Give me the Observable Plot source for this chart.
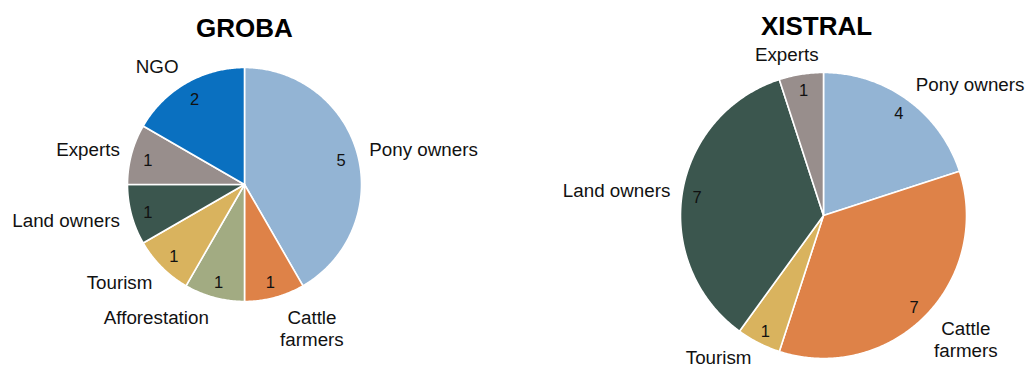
<!DOCTYPE html>
<html><head><meta charset="utf-8">
<script src="https://cdn.jsdelivr.net/npm/d3@7"></script>
<script src="https://cdn.jsdelivr.net/npm/@observablehq/plot@0.6"></script>
<style>body{margin:0;background:#fff;} #chart svg{display:block;}</style>
</head><body><div id="chart"></div>
<script>
// ---- data ----
const grobaCategories = ["Pony owners", "Cattle farmers", "Afforestation", "Tourism", "Land owners", "Experts", "NGO"];
const grobaValues = [5, 1, 1, 1, 1, 1, 2];
const xistralCategories = ["Pony owners", "Cattle farmers", "Tourism", "Land owners", "Experts"];
const xistralValues = [4, 7, 1, 7, 1];
const pieTitles = ["GROBA", "XISTRAL"];
const allCategories = ["Pony owners", "Cattle farmers", "Afforestation", "Tourism", "Land owners", "Experts", "NGO"];
const categoryDisplay = {"Cattle farmers": "Cattle\nfarmers"};

// ---- style / layout ----
const W = 1029, H = 370;
const palette = ["#93b4d4", "#de8248", "#a2ab82", "#d9b35e", "#3b564e", "#988e8c", "#0a70c0"];
const FONT = "Liberation Sans, Arial, Helvetica, sans-serif";
const LABEL_SIZE = 18.8, VALUE_SIZE = 16.5, LINE_H = 1.2;
const layout = [
  {cx: 244, cy: 184, r: 117, titleX: 244, titleY: 28, valueInset: 17},
  {cx: 823, cy: 215, r: 143, titleX: 816, titleY: 26, valueInset: 15}
];

const ctx = document.createElement("canvas").getContext("2d");
ctx.font = `${LABEL_SIZE}px ${FONT}`;
const textW = s => d3.max(s.split("\n"), l => ctx.measureText(l).width);

const pies = [[grobaCategories, grobaValues], [xistralCategories, xistralValues]];
const wedgePts = [], labels = [], values = [], titles = [];
pies.forEach(([cats, vals], p) => {
  const L = layout[p];
  const arcs = d3.pie().sort(null).value(d => d.v)(cats.map((c, i) => ({c, v: vals[i]})));
  arcs.forEach((a, i) => {
    const id = p + "-" + i;
    wedgePts.push({id, cat: a.data.c, x: L.cx, y: L.cy});
    const n = Math.max(2, Math.ceil((a.endAngle - a.startAngle) / 0.01));
    for (let k = 0; k <= n; k++) {
      const t = a.startAngle + (a.endAngle - a.startAngle) * k / n;
      wedgePts.push({id, cat: a.data.c, x: L.cx + L.r * Math.sin(t), y: L.cy - L.r * Math.cos(t)});
    }
    const m = (a.startAngle + a.endAngle) / 2, s = Math.sin(m), c = Math.cos(m);
    // outside label, placed beside the rim like a spreadsheet "outside end" label
    const txt = categoryDisplay[a.data.c] || a.data.c;
    const lines = txt.split("\n").length;
    const w = textW(txt), h = lines * LABEL_SIZE * LINE_H;
    const ro = L.r + 9;
    const px = L.cx + ro * s, py = L.cy - ro * c;
    let cxl;
    if (s > 0.2) cxl = px + 3 + w / 2;
    else if (s < -0.2) cxl = px - 3 - w / 2;
    else cxl = px + s * w / 2 - (s < 0 ? 8 : -8);
    const cyl = Math.min(py - c * h / 2, H - h / 2 - 2);
    labels.push({text: txt, x: cxl, y: cyl});
    const ri = L.r - L.valueInset;
    values.push({text: String(a.data.v), x: L.cx + ri * s, y: L.cy - ri * c + 2});
  });
  titles.push({text: pieTitles[p], x: L.titleX, y: L.titleY});
});

const chart = Plot.plot({
  width: W, height: H, margin: 0,
  x: {domain: [0, W], range: [0, W], axis: null},
  y: {domain: [0, H], range: [0, H], axis: null},
  color: {domain: allCategories, range: palette},
  style: {fontFamily: FONT, background: "#fff"},
  marks: [
    Plot.line(wedgePts, {x: "x", y: "y", z: "id", fill: "cat", stroke: "white", strokeWidth: 1.6, curve: "linear-closed", strokeLinejoin: "round"}),
    Plot.text(values, {x: "x", y: "y", text: "text", fontSize: VALUE_SIZE, fill: "#111"}),
    Plot.text(labels, {x: "x", y: "y", text: "text", fontSize: LABEL_SIZE, fill: "#111", lineHeight: LINE_H}),
    Plot.text(titles, {x: "x", y: "y", text: "text", fontSize: 26, fontWeight: "bold", fill: "#000"})
  ]
});
document.getElementById("chart").append(chart);
</script>
</body></html>
